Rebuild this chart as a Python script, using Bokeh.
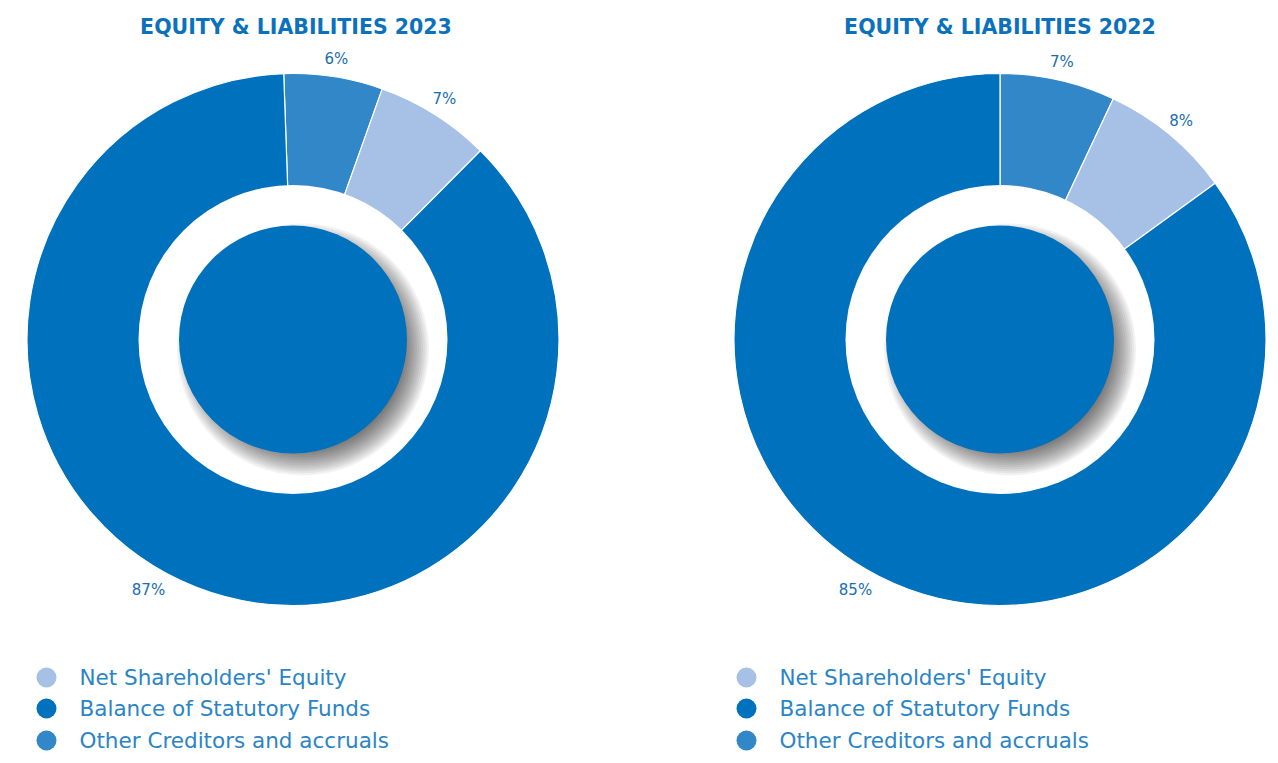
import math
from bokeh.plotting import figure
from bokeh.models import ColumnDataSource, Range1d
from bokeh.core.properties import value
from bokeh.embed import file_html
from bokeh.resources import INLINE

# ---------------- data ----------------
categories = ["Net Shareholders' Equity", "Balance of Statutory Funds", "Other Creditors and accruals"]
values_2023 = [7, 87, 6]
values_2022 = [8, 85, 7]
titles = ["EQUITY & LIABILITIES 2023", "EQUITY & LIABILITIES 2022"]
# clockwise drawing order (from the top of the ring)
draw_order = ["Other Creditors and accruals", "Net Shareholders' Equity", "Balance of Statutory Funds"]

# ---------------- style ----------------
colors = {
    "Net Shareholders' Equity": "#A7C0E6",
    "Balance of Statutory Funds": "#0071BC",
    "Other Creditors and accruals": "#3187C8",
}
TITLE_COLOR = "#0B71BC"
LABEL_COLOR = "#1A6DB3"
LEGEND_COLOR = "#2A84C6"
FONT = "DejaVu Sans"

W, H = 1270, 755
R_OUT, R_HOLE, R_CORE = 266, 154.5, 114

# layout in pixels (x right, y upward from the bottom of the figure)
charts = [
    dict(values=values_2023, title=titles[0], cx=292.5, cy=416, start=-2.0, big_label=210, legend_x=46, title_dx=3),
    dict(values=values_2022, title=titles[1], cx=999.5, cy=416, start=0.0, big_label=210, legend_x=746, title_dx=0),
]

p = figure(width=W, height=H, x_range=Range1d(0, W), y_range=Range1d(0, H),
           output_backend="svg", toolbar_location=None, min_border=0,
           background_fill_color="white", border_fill_color="white")
p.axis.visible = False
p.grid.visible = False
p.outline_line_color = None

for ch in charts:
    vals = dict(zip(categories, ch["values"]))
    total = sum(ch["values"])
    cx, cy = ch["cx"], ch["cy"]
    theta = ch["start"]
    starts, ends, cols, lx, ly, ltxt = [], [], [], [], [], []
    for cat in draw_order:
        span = vals[cat] / total * 360.0
        t1, t2 = theta, theta + span
        starts.append(math.radians(90 - t2))
        ends.append(math.radians(90 - t1))
        cols.append(colors[cat])
        mid = (t1 + t2) / 2
        if cat == "Balance of Statutory Funds":
            mid = ch["big_label"]
            rl = 289
        else:
            rl = 284
        lx.append(cx + rl * math.sin(math.radians(mid)))
        ly.append(cy + rl * math.cos(math.radians(mid)))
        ltxt.append(f"{vals[cat]}%")
        theta = t2
    src = ColumnDataSource(dict(x=[cx] * 3, y=[cy] * 3, s=starts, e=ends, c=cols))
    p.wedge(x="x", y="y", radius=R_OUT, start_angle="s", end_angle="e", fill_color="c",
            line_color="white", line_width=1.2, source=src)
    # white hole
    p.circle(x=[cx], y=[cy], radius=R_HOLE, fill_color="white", line_color=None)
    # soft shadow of the core disc (bottom-right)
    for i in range(16):
        r = 96 + i * 2
        p.circle(x=[cx + 10], y=[cy - 10], radius=r, fill_color="black", fill_alpha=0.05, line_color=None)
    p.circle(x=[cx], y=[cy], radius=R_CORE, fill_color=colors["Balance of Statutory Funds"], line_color=None)

    # percentage labels
    p.text(x=lx, y=ly, text=ltxt, text_font=value(FONT), text_font_size="15px",
           text_color=LABEL_COLOR, text_align="center", text_baseline="middle")
    # title
    p.text(x=[cx + ch["title_dx"]], y=[729], text=[ch["title"]], text_font=value(FONT), text_font_size="20.5px",
           text_font_style="bold", text_color=TITLE_COLOR, text_align="center", text_baseline="middle")
    # legend
    ys = [78, 47, 15]
    p.scatter(x=[ch["legend_x"]] * 3, y=ys, size=20, marker="circle",
              fill_color=[colors[c] for c in categories], line_color=None)
    p.text(x=[ch["legend_x"] + 33] * 3, y=ys, text=categories, text_font=value(FONT),
           text_font_size="21.5px", text_color=LEGEND_COLOR, text_align="left", text_baseline="middle")

open("out.html", "w").write(file_html(p, INLINE))
